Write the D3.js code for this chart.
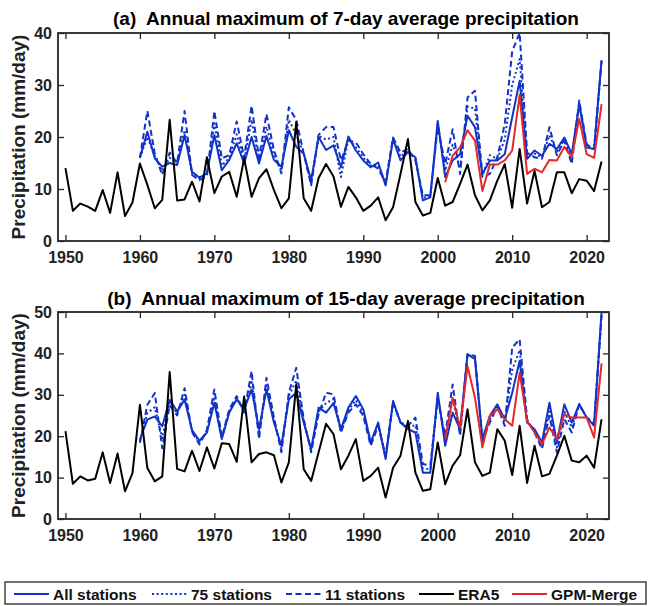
<!DOCTYPE html>
<html>
<head>
<meta charset="utf-8">
<script src="https://cdn.jsdelivr.net/npm/d3@7"></script>
<style>
  body { margin: 0; background: #fff; }
  svg { display: block; font-family: "Liberation Sans", Arial, Helvetica, sans-serif; }
  .title { white-space: pre; }
</style>
</head>
<body>
<svg id="chart" width="648" height="606"></svg>
<script>
// years
const eraYears = d3.range(1950, 2023);
const stnYears = d3.range(1960, 2023);
const gpmYears = d3.range(2001, 2023);
const xTicks = [1950, 1960, 1970, 1980, 1990, 2000, 2010, 2020];

// (a) 7-day
const era7 = [14.0, 5.8, 7.2, 6.6, 5.8, 9.8, 5.4, 13.2, 4.8, 7.4,
  14.9, 10.8, 6.3, 7.9, 23.3, 7.8, 8.0, 11.4, 7.6, 16.1,
  9.2, 12.4, 13.3, 8.5, 15.9, 8.5, 12.1, 13.8, 9.8, 6.3,
  8.2, 22.9, 8.2, 5.8, 12.1, 14.8, 12.4, 6.6, 10.4, 8.4,
  5.8, 6.8, 8.4, 4.0, 6.5, 12.9, 19.6, 7.5, 4.9, 5.4,
  12.1, 6.8, 7.5, 11.0, 14.7, 8.8, 5.9, 7.8, 11.6, 14.8,
  6.4, 17.7, 7.2, 13.5, 6.5, 7.5, 13.2, 13.2, 9.2, 11.9,
  11.6, 9.6, 15.3];
const all7 = [16.0, 21.0, 15.9, 14.3, 15.0, 14.6, 20.4, 13.3, 12.2, 13.0,
  20.4, 13.6, 15.6, 18.8, 14.9, 20.0, 14.9, 20.2, 15.6, 14.3,
  21.3, 18.1, 16.8, 11.7, 20.0, 17.5, 18.4, 14.2, 20.1, 17.4,
  15.5, 14.2, 15.1, 10.7, 19.6, 15.5, 17.1, 16.1, 7.8, 8.4,
  23.1, 12.3, 15.5, 16.7, 24.1, 21.9, 12.9, 15.5, 15.5, 16.7,
  23.8, 30.8, 15.8, 17.4, 16.4, 18.7, 17.7, 19.9, 16.7, 26.3,
  18.0, 17.7, 34.8];
const st75_7 = [16.0, 20.0, 16.3, 13.5, 16.0, 14.8, 21.3, 13.0, 12.0, 12.8,
  22.6, 14.5, 16.0, 20.5, 15.3, 23.3, 15.3, 22.0, 16.5, 13.5,
  23.3, 20.5, 16.8, 11.2, 20.2, 19.5, 20.0, 12.3, 19.7, 18.0,
  16.0, 14.5, 14.5, 11.0, 19.8, 16.2, 17.4, 15.8, 8.3, 8.6,
  22.5, 13.5, 18.5, 14.0, 25.8, 25.5, 12.6, 16.5, 15.8, 19.5,
  30.0, 35.0, 16.4, 16.8, 16.1, 20.3, 17.1, 19.6, 15.8, 26.6,
  18.3, 17.7, 34.6];
const st11_7 = [16.0, 25.0, 16.8, 12.7, 17.0, 15.0, 25.0, 12.7, 11.7, 12.5,
  25.0, 15.9, 16.5, 23.0, 16.0, 26.0, 16.0, 24.4, 17.5, 13.0,
  25.7, 23.3, 16.8, 10.7, 20.4, 21.9, 21.9, 15.5, 19.3, 19.0,
  16.7, 14.8, 13.9, 11.3, 19.9, 17.0, 17.7, 15.5, 8.8, 8.8,
  21.9, 14.8, 21.5, 12.9, 27.6, 28.9, 12.3, 12.9, 16.1, 22.5,
  36.5, 40.0, 17.0, 16.1, 15.8, 21.9, 16.5, 19.3, 14.8, 27.0,
  18.6, 17.7, 34.5];
const gpm7 = [11.3, 16.4, 18.0, 21.3, 19.3, 9.6, 14.7, 14.7, 15.5, 17.4,
  28.1, 12.9, 13.9, 13.2, 15.6, 15.5, 18.1, 16.1, 23.5, 16.7,
  16.0, 26.3];

// (b) 15-day
const era15 = [21.2, 8.5, 10.3, 9.3, 9.7, 16.1, 8.7, 15.8, 6.7, 11.1,
  27.6, 12.3, 9.1, 10.3, 35.5, 12.1, 11.5, 16.5, 11.6, 17.3,
  12.2, 18.3, 18.1, 13.8, 29.6, 13.7, 15.7, 16.1, 15.4, 8.8,
  13.7, 32.5, 12.0, 9.2, 16.1, 23.0, 20.5, 12.0, 15.3, 19.3,
  9.2, 10.4, 12.4, 5.2, 12.4, 15.3, 23.7, 11.2, 6.8, 7.2,
  18.5, 8.4, 12.9, 15.4, 26.5, 13.7, 10.4, 11.2, 21.7, 18.9,
  10.6, 22.5, 8.7, 17.7, 10.3, 10.9, 15.3, 20.1, 14.1, 13.7,
  15.3, 12.4, 24.1];
const all15 = [19.2, 24.0, 24.8, 22.4, 28.8, 26.0, 28.8, 21.5, 18.9, 20.9,
  28.1, 19.3, 25.7, 28.9, 26.5, 31.3, 21.7, 31.3, 23.3, 17.7,
  28.9, 30.5, 23.3, 16.9, 26.9, 25.7, 28.0, 21.7, 26.9, 29.7,
  26.5, 18.5, 23.3, 14.5, 28.5, 23.3, 21.7, 20.9, 11.2, 11.2,
  30.5, 17.7, 25.7, 21.7, 39.8, 38.6, 19.3, 24.9, 27.7, 24.1,
  30.5, 38.2, 23.3, 21.7, 18.5, 28.1, 18.5, 27.7, 23.3, 27.7,
  24.5, 22.5, 50.0];
const st75_15 = [18.8, 25.6, 27.0, 19.5, 28.0, 25.5, 30.0, 21.2, 18.5, 21.2,
  29.5, 19.5, 26.0, 29.3, 26.0, 33.5, 20.5, 32.8, 24.0, 17.0,
  29.7, 33.5, 23.7, 16.5, 26.0, 28.0, 29.0, 21.3, 26.3, 28.7,
  25.7, 18.1, 22.9, 14.9, 28.3, 23.3, 22.1, 22.7, 12.2, 12.0,
  29.7, 18.9, 29.0, 20.9, 39.8, 39.0, 19.1, 24.1, 27.5, 23.3,
  36.0, 40.8, 23.7, 21.3, 17.7, 26.5, 17.3, 25.9, 22.1, 27.7,
  24.5, 22.9, 49.5];
const st11_15 = [18.4, 27.6, 30.4, 17.1, 27.5, 25.0, 31.6, 21.0, 18.0, 21.5,
  31.3, 19.7, 26.5, 29.7, 25.7, 35.7, 19.3, 34.1, 24.5, 16.1,
  30.5, 36.5, 24.1, 16.1, 25.3, 30.5, 30.1, 20.9, 25.7, 27.7,
  24.9, 17.7, 22.5, 15.3, 28.1, 23.3, 22.5, 24.5, 13.3, 12.9,
  28.9, 20.1, 32.5, 20.1, 39.8, 39.4, 18.9, 23.3, 27.3, 22.5,
  41.4, 43.4, 24.1, 20.9, 16.9, 24.9, 16.1, 24.1, 20.9, 27.7,
  24.5, 23.3, 49.0];
const gpm15 = [19.3, 29.3, 22.1, 36.9, 29.3, 17.3, 24.9, 26.5, 24.1, 22.5,
  35.3, 23.7, 20.9, 18.1, 22.1, 19.3, 25.3, 24.5, 24.5, 24.5,
  19.7, 37.6];

const legendNames = ["All stations", "75 stations", "11 stations", "ERA5", "GPM-Merge"];

const blue = "#1233c8", red = "#e2292b", frameCol = "#262626";
const styles = [
  { color: blue, dash: null },
  { color: blue, dash: "2,2.6" },
  { color: blue, dash: "6,3.5" },
  { color: "#000", dash: null },
  { color: red, dash: null }
];

const panels = [
  { id: "a", title: "(a)  Annual maximum of 7-day average precipitation", titleY: 25,
    top: 33, bottom: 241, yMax: 40, yTicks: [0, 10, 20, 30, 40],
    series: [[stnYears, all7], [stnYears, st75_7], [stnYears, st11_7], [eraYears, era7], [gpmYears, gpm7]] },
  { id: "b", title: "(b)  Annual maximum of 15-day average precipitation", titleY: 305,
    top: 312, bottom: 519, yMax: 50, yTicks: [0, 10, 20, 30, 40, 50],
    series: [[stnYears, all15], [stnYears, st75_15], [stnYears, st11_15], [eraYears, era15], [gpmYears, gpm15]] }
];

const svg = d3.select("#chart");
const left = 58, right = 609;
const x = d3.scaleLinear().domain([1949, 2023]).range([left, right]);

panels.forEach(p => {
  const y = d3.scaleLinear().domain([0, p.yMax]).range([p.bottom, p.top]);
  const g = svg.append("g");

  g.append("clipPath").attr("id", "clip-" + p.id)
    .append("rect").attr("x", left).attr("y", p.top)
    .attr("width", right - left).attr("height", p.bottom - p.top);

  const lines = g.append("g").attr("clip-path", `url(#clip-${p.id})`);
  p.series.forEach(([yrs, vals], i) => {
    const line = d3.line().x((d, j) => x(yrs[j])).y(d => y(d));
    lines.append("path")
      .attr("d", line(vals))
      .attr("fill", "none")
      .attr("stroke", styles[i].color)
      .attr("stroke-width", 2)
      .attr("stroke-linejoin", "round")
      .attr("stroke-dasharray", styles[i].dash);
  });

  const fmt = d3.format("d");
  const styleAxis = (ax) => {
    ax.select(".domain").remove();
    ax.selectAll(".tick line").attr("stroke", frameCol).attr("stroke-width", 1.3);
    ax.selectAll(".tick text")
      .attr("fill", "#222")
      .style("font-size", "16px")
      .style("font-weight", "bold");
  };

  g.append("g").attr("transform", `translate(0,${p.bottom})`)
    .call(d3.axisBottom(x).tickValues(xTicks).tickSize(-6).tickPadding(11).tickFormat(fmt))
    .call(styleAxis);
  g.append("g").attr("transform", `translate(0,${p.top})`)
    .call(d3.axisTop(x).tickValues(xTicks).tickSize(-6).tickFormat(""))
    .call(styleAxis);
  g.append("g").attr("transform", `translate(${left},0)`)
    .call(d3.axisLeft(y).tickValues(p.yTicks).tickSize(-6).tickPadding(6).tickFormat(fmt))
    .call(styleAxis);
  g.append("g").attr("transform", `translate(${right},0)`)
    .call(d3.axisRight(y).tickValues(p.yTicks).tickSize(-6).tickFormat(""))
    .call(styleAxis);

  g.append("rect")
    .attr("x", left).attr("y", p.top)
    .attr("width", right - left).attr("height", p.bottom - p.top)
    .attr("fill", "none").attr("stroke", frameCol).attr("stroke-width", 1.8);

  g.append("text").attr("class", "title")
    .attr("x", 346).attr("y", p.titleY)
    .attr("text-anchor", "middle")
    .style("font-size", "19px").style("font-weight", "bold")
    .text(p.title);

  g.append("text")
    .attr("transform", `translate(25,${(p.top + p.bottom) / 2}) rotate(-90)`)
    .attr("text-anchor", "middle")
    .attr("fill", "#222")
    .style("font-size", "19px").style("font-weight", "bold")
    .text("Precipitation (mm/day)");
});

// legend
const leg = svg.append("g");
leg.append("rect").attr("x", 5).attr("y", 582).attr("width", 641).attr("height", 22)
  .attr("fill", "#fff").attr("stroke", frameCol).attr("stroke-width", 1.3);
const legX = [14, 152, 286, 419, 512];
legendNames.forEach((name, i) => {
  leg.append("line")
    .attr("x1", legX[i]).attr("x2", legX[i] + 35)
    .attr("y1", 594).attr("y2", 594)
    .attr("stroke", styles[i].color).attr("stroke-width", 2)
    .attr("stroke-dasharray", styles[i].dash);
  leg.append("text")
    .attr("x", legX[i] + 39).attr("y", 599.5)
    .attr("fill", "#111")
    .style("font-size", "15.5px").style("font-weight", "bold")
    .text(name);
});
</script>
</body>
</html>
